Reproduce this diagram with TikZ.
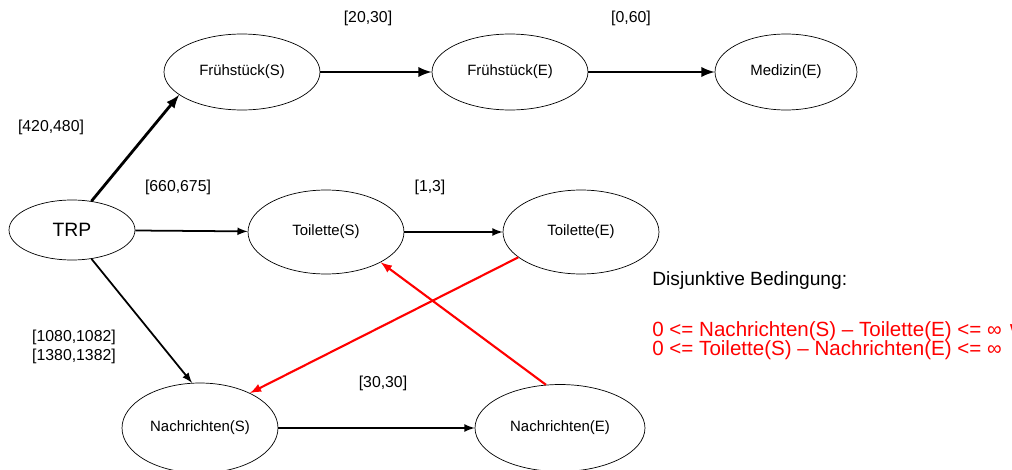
\documentclass[tikz,border=0pt]{standalone}
\usepackage{fontspec}
\setmainfont{Liberation Sans}
\newfontfamily\symfont{DejaVu Sans}
\usepackage{tikz}
\usetikzlibrary{shapes.geometric}

\begin{document}
\begin{tikzpicture}[x=0.02cm, y=0.02cm]
\tikzstyle{state}=[draw=black, ellipse, inner sep=0pt, minimum width=3.12cm, minimum height=1.52cm, font=\fontsize{8.5}{10}\selectfont]
\tikzstyle{lbl}=[inner sep=0pt, font=\fontsize{9}{11}\selectfont]
\tikzstyle{fat}=[line width=1.6pt, -latex]
\tikzstyle{thin}=[line width=1pt, -latex]
\tikzstyle{disj}=[red, line width=1.2pt, -latex]
\useasboundingbox (0,0) rectangle (1012,-470);
% nodes
\node [state, minimum width=2.52cm, minimum height=1.2cm, font=\fontsize{11}{13}\selectfont] (trp) at (72,-230) {TRP};
\node [state] (fs) at (242,-72) {Frühstück(S)};
\node [state] (fe) at (510,-72) {Frühstück(E)};
\node [state, minimum width=2.84cm] (me) at (786,-72) {Medizin(E)};
\node [state, minimum height=1.68cm] (ts) at (326,-232) {Toilette(S)};
\node [state, minimum height=1.68cm] (te) at (581,-232) {Toilette(E)};
\node [state, minimum height=1.8cm] (ns) at (200,-428) {Nachrichten(S)};
\node [state, minimum width=3.4cm, minimum height=1.74cm] (ne) at (560,-428) {Nachrichten(E)};
% edges
\draw [fat] (trp.56) -- (fs.200);
\draw [fat] (fs) -- (fe);
\draw [fat] (fe) -- (me);
\draw [thin] (trp) -- (ts);
\draw [thin] (ts) -- (te);
\draw [thin] (trp.304) -- (ns.100);
\draw [thin] (ns) -- (ne);
\draw [disj] (te.202) -- (ns.35);
\draw [disj] (ne.108) -- (ts.331);
% intervals
\node [lbl] (l1) at (368,-18) {[20,30]};
\node [lbl] (l2) at (631,-18) {[0,60]};
\node [lbl] (l3) at (51,-127) {[420,480]};
\node [lbl] (l4) at (178,-187) {[660,675]};
\node [lbl] (l5) at (430,-187) {[1,3]};
\node [lbl, align=center] (l6) at (74,-347) {[1080,1082]\\{}[1380,1382]};
\node [lbl] (l7) at (383,-383) {[30,30]};
% condition
\node [anchor=west, inner sep=0pt, font=\fontsize{10.9}{12}\selectfont] (cond) at (652,-281) {Disjunktive Bedingung:};
\node [anchor=west, inner sep=0pt, red, font=\fontsize{11.7}{13}\selectfont] (c1) at (652,-331) {0 <= Nachrichten(S) – Toilette(E) <= ∞ {\symfont ∨}};
\node [anchor=west, inner sep=0pt, red, font=\fontsize{11.7}{13}\selectfont] (c2) at (652,-350) {0 <= Toilette(S) – Nachrichten(E) <= ∞};
\end{tikzpicture}
\end{document}
